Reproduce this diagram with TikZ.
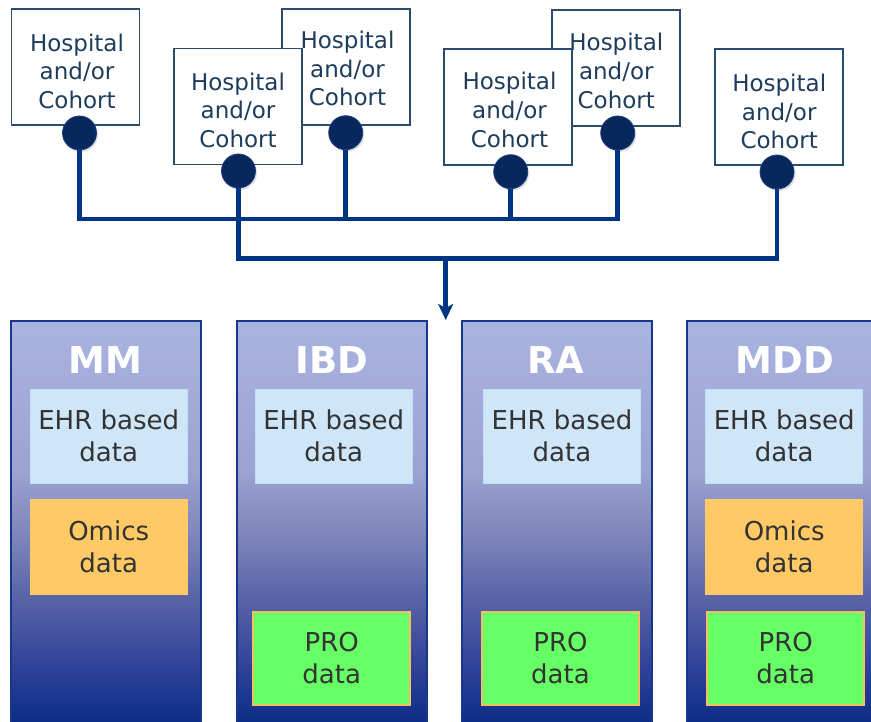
\documentclass[tikz,border=0pt]{standalone}
\usepackage{fontspec}
\setmainfont{DejaVu Sans}
\usetikzlibrary{arrows.meta,shadows}
\definecolor{hospc}{HTML}{2B4C6C}
\definecolor{hosptext}{HTML}{1E3D5C}
\definecolor{dotc}{HTML}{08275C}
\definecolor{dotb}{HTML}{1A3E7C}
\definecolor{wirec}{HTML}{003584}
\definecolor{colb}{HTML}{17388A}
\definecolor{ehrc}{HTML}{CFE5F8}
\definecolor{ehrb}{HTML}{BEE0F6}
\definecolor{omc}{HTML}{FFC966}
\definecolor{omb}{HTML}{FFCB6A}
\definecolor{proc}{HTML}{66FF66}
\definecolor{prob}{HTML}{F5C062}
\definecolor{txt}{HTML}{333333}
\definecolor{g0}{HTML}{0A2C85}
\definecolor{g1}{HTML}{33449A}
\definecolor{g2}{HTML}{5662A6}
\definecolor{g3}{HTML}{8088BC}
\definecolor{g4}{HTML}{9BA3D2}
\definecolor{g5}{HTML}{A9B3E0}
\pgfdeclareverticalshading{colshade}{100bp}{color(0bp)=(g0); color(25bp)=(g0); color(32.7bp)=(g1); color(40.2bp)=(g2); color(49bp)=(g3); color(56.4bp)=(g4); color(75bp)=(g5); color(100bp)=(g5)}
\tikzset{
  hosp/.style={draw=hospc, line width=1.6pt, fill=white, minimum width=128pt, minimum height=116pt, inner sep=0pt},
  htext/.style={inner sep=0pt, align=center, text=hosptext, font=\fontsize{23}{28.7}\selectfont},
  hdot/.style={circle, fill=dotc, draw=dotb, line width=0.8pt, minimum size=34pt, inner sep=0pt, drop shadow={opacity=0.25, shadow xshift=1.5pt, shadow yshift=-2pt}},
  wire/.style={draw=wirec, line width=4.5pt},
  colbox/.style={draw=colb, line width=2pt, shading=colshade, minimum width=190pt, minimum height=403.3pt, inner sep=0pt},
  coltitle/.style={text=white, font=\fontsize{37}{40}\selectfont\bfseries, anchor=base, inner sep=0pt},
  ehr/.style={fill=ehrc, draw=ehrb, line width=1.2pt, minimum width=157pt, minimum height=94pt, inner sep=0pt, align=center, text=txt, font=\fontsize{26}{32}\selectfont},
  omics/.style={ehr, fill=omc, draw=omb, minimum height=94.7pt},
  pro/.style={ehr, fill=proc, draw=prob, line width=2pt, minimum width=156.7pt, minimum height=93.3pt},
}
\begin{document}
\begin{tikzpicture}[x=1pt, y=-1pt]
\useasboundingbox (0,0) rectangle (871,722);
\clip (0,0) rectangle (871,722);

% columns
\node[colbox] (colMM) at (106,522.35) {};
\node[colbox] (colIBD) at (331.7,522.35) {};
\node[colbox] (colRA) at (556.7,522.35) {};
\node[colbox] (colMDD) at (781.7,522.35) {};

\node[coltitle] (tMM) at (105.5,373.3) {MM};
\node[coltitle] (tIBD) at (331.7,373.3) {IBD};
\node[coltitle] (tRA) at (556,373.3) {RA};
\node[coltitle] (tMDD) at (784.7,373.3) {MDD};

\node[ehr] (ehrMM) at (108.7,436.3) {EHR based\\data};
\node[ehr] (ehrIBD) at (333.7,436.3) {EHR based\\data};
\node[ehr] (ehrRA) at (562,436.3) {EHR based\\data};
\node[ehr] (ehrMDD) at (784.2,436.3) {EHR based\\data};

\node[omics] (omMM) at (108.7,547.3) {Omics\\data};
\node[omics] (omMDD) at (784.2,547.3) {Omics\\data};

\node[pro] (proIBD) at (331.7,658.3) {PRO\\data};
\node[pro] (proRA) at (560.5,658.3) {PRO\\data};
\node[pro] (proMDD) at (785.7,658.3) {PRO\\data};

% hospital boxes (back ones first)
\node[hosp] (h1) at (75.5,67) {};
\node[htext] (t1) at (77,71.2) {Hospital\\and/or\\Cohort};
\node[hosp] (h3) at (346,67) {};
\node[htext] (t3) at (347.5,68.5) {Hospital\\and/or\\Cohort};
\node[hosp] (h2) at (238,106.5) {};
\node[htext] (t2) at (238,110.3) {Hospital\\and/or\\Cohort};
\node[hosp] (h5) at (616,68) {};
\node[htext] (t5) at (616.3,70.8) {Hospital\\and/or\\Cohort};
\node[hosp] (h4) at (508,107) {};
\node[htext] (t4) at (509.5,110) {Hospital\\and/or\\Cohort};
\node[hosp] (h6) at (779,107) {};
\node[htext] (t6) at (779.2,111.5) {Hospital\\and/or\\Cohort};

% dots
\node[hdot] (c1) at (79.5,133) {};
\node[hdot] (c2) at (238.5,171) {};
\node[hdot] (c3) at (345.7,132.7) {};
\node[hdot] (c4) at (510.7,171.7) {};
\node[hdot] (c5) at (617.7,133) {};
\node[hdot] (c6) at (777,172) {};

\coordinate (bus1) at (0,219);
\coordinate (bus2) at (0,258.7);
\coordinate (tip) at (445.7,320);

% wires
\draw[wire] (c1.south) |- (bus1 -| c5) -- (c5.south);
\draw[wire] (c3.south) -- (c3 |- bus1);
\draw[wire] (c4.south) -- (c4 |- bus1);
\draw[wire] (c2.south) |- (bus2 -| c6) -- (c6.south);
\draw[wire, -{Stealth[length=16pt, width=15pt, inset=4pt]}] (tip |- bus2) -- (tip);
\end{tikzpicture}
\end{document}
